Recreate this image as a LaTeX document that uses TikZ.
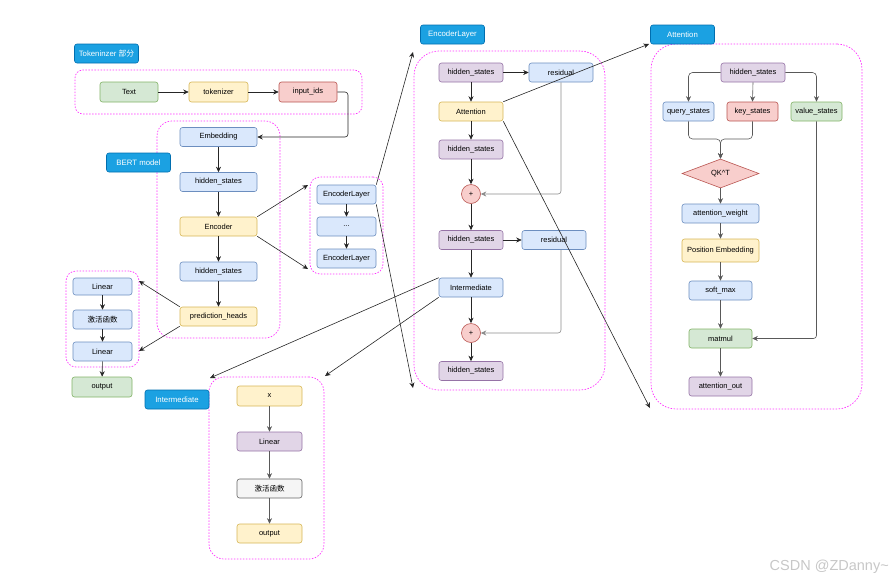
\documentclass[tikz,border=0pt]{standalone}
\usepackage{fontspec}
\setmainfont{Liberation Sans}
\newfontfamily\cjk{Noto Sans CJK SC}
\usetikzlibrary{arrows.meta,shapes.geometric,calc}
\definecolor{bluef}{HTML}{DAE8FC}\definecolor{blued}{HTML}{6C8EBF}
\definecolor{yelf}{HTML}{FFF2CC}\definecolor{yeld}{HTML}{D6B656}
\definecolor{redf}{HTML}{F8CECC}\definecolor{redd}{HTML}{B85450}
\definecolor{grnf}{HTML}{D5E8D4}\definecolor{grnd}{HTML}{82B366}
\definecolor{purf}{HTML}{E1D5E7}\definecolor{purd}{HTML}{9673A6}
\definecolor{gryf}{HTML}{F5F5F5}\definecolor{gryd}{HTML}{666666}
\definecolor{lblf}{HTML}{1BA1E2}\definecolor{lbld}{HTML}{006EAF}
\definecolor{mag}{HTML}{FF33FF}
\tikzset{
  box/.style={draw, rounded corners=2.5pt, minimum width=77pt, minimum height=19pt, inner sep=1pt, line width=0.6pt},
  bbox/.style={box, fill=bluef, draw=blued},
  ybox/.style={box, fill=yelf, draw=yeld},
  rbox/.style={box, fill=redf, draw=redd},
  gbox/.style={box, fill=grnf, draw=grnd},
  pbox/.style={box, fill=purf, draw=purd},
  wbox/.style={box, fill=gryf, draw=gryd},
  lbl/.style={draw=lbld, fill=lblf, rounded corners=2.5pt, text=white, minimum width=64pt, minimum height=19pt, inner sep=1pt, line width=0.6pt, font=\fontsize{7.8}{9}\selectfont},
  cont/.style={draw=mag, dash pattern=on 1.5pt off 1.5pt, line width=0.7pt, inner sep=0pt},
  arr/.style={-{Stealth[length=5.5pt,width=5pt]}, line width=0.6pt, draw=black!85},
  garr/.style={arr, draw=black!45},
  aarr/.style={arr, draw=black!65},
  plus/.style={circle, draw=redd, fill=redf, minimum size=19pt, inner sep=0pt, line width=0.6pt}
}
\begin{document}
\begin{tikzpicture}[x=1pt,y=-1pt,font=\fontsize{7.5}{9}\selectfont]
\useasboundingbox (0,0) rectangle (895,582);
% containers
\node[cont, rounded corners=8pt, minimum width=287pt, minimum height=44pt] (contTok) at (218.5,92) {};
\node[cont, rounded corners=15pt, minimum width=123pt, minimum height=217pt] (contBert) at (218.5,229.5) {};
\node[cont, rounded corners=10pt, minimum width=73pt, minimum height=96pt] (contLin) at (102.5,319) {};
\node[cont, rounded corners=10pt, minimum width=73pt, minimum height=97pt] (contEL) at (346.5,225.5) {};
\node[cont, rounded corners=25pt, minimum width=191pt, minimum height=339pt] (contEnc) at (509.5,220.5) {};
\node[cont, rounded corners=25pt, minimum width=211pt, minimum height=365pt] (contAtt) at (756.5,226.5) {};
\node[cont, rounded corners=15pt, minimum width=115pt, minimum height=182pt] (contInt) at (266.5,468) {};
% labels
\node[lbl] (lblTok) at (106.5,53.5) {Tokeninzer {\cjk 部分}};
\node[lbl] (lblBert) at (138.5,162.5) {BERT model};
\node[lbl] (lblEL) at (452.5,34.5) {EncoderLayer};
\node[lbl] (lblAtt) at (682.5,34.5) {Attention};
\node[lbl] (lblInt) at (177,399.5) {Intermediate};
% tokenizer
\node[gbox, minimum width=58pt, minimum height=20pt] (text) at (129,92) {Text};
\node[ybox, minimum width=59pt, minimum height=20pt] (tok) at (218.5,92) {tokenizer};
\node[rbox, minimum width=58pt, minimum height=20pt] (ids) at (308,92) {input\_ids};
% bert
\node[bbox] (emb) at (218.5,137) {Embedding};
\node[bbox] (hs1) at (218.5,182) {hidden\_states};
\node[ybox] (enc) at (218.5,226.5) {Encoder};
\node[bbox] (hs2) at (218.5,271.5) {hidden\_states};
\node[ybox] (ph) at (218.5,316.5) {prediction\_heads};
% linear head
\node[bbox, minimum width=59pt, minimum height=17pt] (lin1) at (102.5,286.5) {Linear};
\node[bbox, minimum width=59pt] (act1) at (102.5,319.5) {\cjk 激活函数};
\node[bbox, minimum width=59pt] (lin2) at (102.5,351.5) {Linear};
\node[gbox, minimum width=60pt, minimum height=20pt] (out1) at (102,387) {output};
% encoder layers
\node[bbox, minimum width=59pt] (el1) at (346.5,194.5) {EncoderLayer};
\node[bbox, minimum width=59pt] (dots) at (346.5,226.5) {...};
\node[bbox, minimum width=59pt] (el2) at (346.5,258.5) {EncoderLayer};
% encoder layer detail
\node[pbox, minimum width=64pt] (hsA) at (471,72.5) {hidden\_states};
\node[bbox, minimum width=64pt] (resA) at (561,72.5) {residual};
\node[ybox, minimum width=64pt] (att) at (471,111.5) {Attention};
\node[pbox, minimum width=64pt] (hsB) at (471,149.5) {hidden\_states};
\node[plus] (plusA) at (471,194) {+};
\node[pbox, minimum width=64pt] (hsC) at (471,240) {hidden\_states};
\node[bbox, minimum width=64pt] (resB) at (554,240) {residual};
\node[bbox, minimum width=64pt] (inter) at (471,287.5) {Intermediate};
\node[plus] (plusB) at (471,333) {+};
\node[pbox, minimum width=64pt] (hsD) at (471,371) {hidden\_states};
% attention detail
\node[pbox, minimum width=64pt] (hsAt) at (753,72.5) {hidden\_states};
\node[bbox, minimum width=51pt] (q) at (688.5,111.5) {query\_states};
\node[rbox, minimum width=51pt] (k) at (752.5,111.5) {key\_states};
\node[gbox, minimum width=51pt] (v) at (816.5,111.5) {value\_states};
\node[diamond, draw=redd, fill=redf, line width=0.6pt, minimum width=77pt, minimum height=29pt, inner sep=0pt, aspect=2.6] (qk) at (720.5,173.5) {QK\^{}T};
\node[bbox] (aw) at (720.5,213.5) {attention\_weight};
\node[ybox, minimum height=23pt] (pe) at (720.5,250.5) {Position Embedding};
\node[bbox, minimum width=63pt] (sm) at (720.5,290.5) {soft\_max};
\node[gbox, minimum width=63pt] (mm) at (720.5,338.5) {matmul};
\node[pbox, minimum width=63pt] (ao) at (720.5,386.5) {attention\_out};
% intermediate detail
\node[ybox, minimum width=65pt, minimum height=20pt] (ix) at (269.5,396) {x};
\node[pbox, minimum width=65pt] (il) at (269.5,441.5) {Linear};
\node[wbox, minimum width=65pt] (iact) at (269.5,488.5) {\cjk 激活函数};
\node[ybox, minimum width=65pt] (iout) at (269.5,533.5) {output};
% coordinates
\coordinate (bendIds) at (348,92);
\coordinate (linTop) at (139,281);
\coordinate (linBot) at (139,351);
\coordinate (elTop) at (308,185);
\coordinate (elBot) at (308,269);
\coordinate (encTL) at (413,52);
\coordinate (encBL) at (413,388);
\coordinate (attTL) at (649,44);
\coordinate (attBL) at (650,408);
\coordinate (intTL) at (210,378);
\coordinate (intTR) at (325,376);
\coordinate (qkj) at (720.5,139);
% arrows
\draw[arr] (text) -- (tok);
\draw[arr] (tok) -- (ids);
\draw[arr, rounded corners=3pt] (ids.east) -- (bendIds) |- (emb.east);
\draw[arr] (emb) -- (hs1);
\draw[arr] (hs1) -- (enc);
\draw[arr] (enc) -- (hs2);
\draw[arr] (hs2) -- (ph);
\draw[arr] (ph.north west) -- (linTop);
\draw[arr] (ph.south west) -- (linBot);
\draw[arr] (lin1) -- (act1);
\draw[arr] (act1) -- (lin2);
\draw[arr] (lin2) -- (out1);
\draw[arr] (enc.north east) -- (elTop);
\draw[arr] (enc.south east) -- (elBot);
\draw[arr] (el1) -- (dots);
\draw[arr] (dots) -- (el2);
\draw[arr] (el1.north east) -- (encTL);
\draw[arr] (el1.south east) -- (encBL);
\draw[arr] (hsA) -- (resA);
\draw[arr] (hsA) -- (att);
\draw[arr] (att) -- (hsB);
\draw[arr] (hsB) -- (plusA);
\draw[arr] (plusA) -- (hsC);
\draw[arr] (hsC) -- (resB);
\draw[arr] (hsC) -- (inter);
\draw[arr] (inter) -- (plusB);
\draw[arr] (plusB) -- (hsD);
\draw[garr, rounded corners=3pt] (resA.south) |- (plusA.east);
\draw[garr, rounded corners=3pt] (resA.south |- resB.south) |- (plusB.east);
\draw[arr] (att.north east) -- (attTL);
\draw[arr] (att.south east) -- (attBL);
\draw[arr] (inter.north west) -- (intTL);
\draw[arr] (inter.south west) -- (intTR);
\draw[aarr, rounded corners=4pt] (hsAt.west) -| (q.north);
\draw[aarr] (hsAt.south) -- (k.north);
\draw[aarr, rounded corners=4pt] (hsAt.east) -| (v.north);
\draw[aarr, rounded corners=4pt] (q.south) |- (qkj) -- (qk.north);
\draw[aarr, rounded corners=4pt] (k.south) |- (qkj) -- (qk.north);
\draw[aarr] (qk) -- (aw);
\draw[aarr] (aw) -- (pe);
\draw[aarr] (pe) -- (sm);
\draw[aarr] (sm) -- (mm);
\draw[aarr] (mm) -- (ao);
\draw[aarr, rounded corners=3pt] (v.south) |- (mm.east);
\draw[aarr] (ix) -- (il);
\draw[aarr] (il) -- (iact);
\draw[aarr] (iact) -- (iout);
% watermark
\node[anchor=east, text=black!22, font=\fontsize{14.5}{16}\selectfont, inner sep=0pt] (wm) at (889,567) {CSDN @ZDanny\textasciitilde};
\end{tikzpicture}
\end{document}
